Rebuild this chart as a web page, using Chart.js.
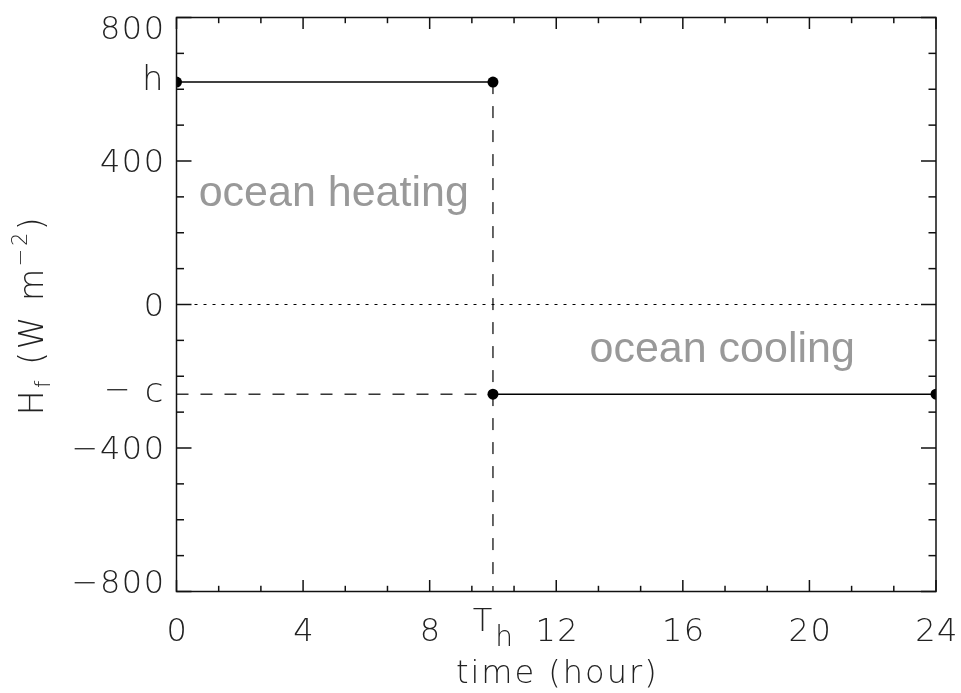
<!DOCTYPE html>
<html>
<head>
<meta charset="utf-8">
<script src="https://cdn.jsdelivr.net/npm/chart.js@4"></script>
<style>
  html, body { margin: 0; padding: 0; background: #fff; }
  #wrap { width: 961px; height: 693px; position: relative; }
</style>
</head>
<body>
<div id="wrap"><canvas id="fluxChart"></canvas></div>
<script>
// heat flux step: heating h until T_h, then cooling -c
const hFlux = 620;
const cFlux = 250;
const tHeat = 10;

const heatX = [0, tHeat];
const heatY = [hFlux, hFlux];
const coolX = [tHeat, 24];
const coolY = [-cFlux, -cFlux];
const dropX = [tHeat, tHeat];
const dropY = [hFlux, -800];
const cGuideX = [0, tHeat];
const cGuideY = [-cFlux, -cFlux];
const zeroX = [0, 24];
const zeroY = [0, 0];

const xTicks = [0, 4, 8, 12, 16, 20, 24];
const yTicks = [800, 400, 0, -400, -800];
const xMinorStep = 4 / 3;
const yMinorStep = 100;

const tickFont = '200 32px "DejaVu Sans"';
const tickColor = "#222";

function pts(xs, ys) {
  return xs.map((v, i) => ({ x: v, y: ys[i] }));
}

function fmt(v) {
  return v < 0 ? "\u2212" + Math.abs(v) : String(v);
}

const axisDeco = {
  id: "axisDeco",
  afterDraw(chart) {
    const { ctx, chartArea: a, scales } = chart;
    const x = scales.x;
    const y = scales.y;
    ctx.save();

    const line = (x1, y1, x2, y2) => {
      ctx.beginPath();
      ctx.moveTo(x1, y1);
      ctx.lineTo(x2, y2);
      ctx.stroke();
    };

    ctx.strokeStyle = "#111";
    ctx.lineWidth = 1.5;
    ctx.strokeRect(a.left, a.top, a.right - a.left, a.bottom - a.top);

    // inward ticks, x
    for (let i = 0; i * xMinorStep <= 24 + 1e-6; i++) {
      const px = x.getPixelForValue(i * xMinorStep);
      const len = i % 3 === 0 ? 11.5 : 5.7;
      line(px, a.bottom, px, a.bottom - len);
      line(px, a.top, px, a.top + len);
    }
    // inward ticks, y
    for (let v = -800; v <= 800; v += yMinorStep) {
      const py = y.getPixelForValue(v);
      const len = v % 400 === 0 ? 15 : 7.5;
      line(a.left, py, a.left + len, py);
      line(a.right, py, a.right - len, py);
    }

    ctx.fillStyle = tickColor;
    ctx.font = tickFont;
    ctx.letterSpacing = "1.5px";

    // y tick labels
    ctx.textAlign = "right";
    ctx.textBaseline = "alphabetic";
    const labX = a.left - 11;
    yTicks.forEach((v) => {
      let py = y.getPixelForValue(v) + 11;
      if (v === 800) py += 10;
      if (v === -800) py -= 10;
      ctx.fillText(fmt(v), labX, py);
    });
    ctx.letterSpacing = "0px";
    const symX = a.left - 13;
    ctx.font = '200 34px "DejaVu Sans"';
    ctx.fillText("h", symX, y.getPixelForValue(hFlux) + 8);
    ctx.fillText("c", symX, y.getPixelForValue(-cFlux) + 8);
    const cw = ctx.measureText("c").width;
    ctx.font = tickFont;
    ctx.fillText("\u2212", symX - cw - 14, y.getPixelForValue(-cFlux) + 6);

    // x tick labels
    ctx.letterSpacing = "1.5px";
    ctx.textAlign = "center";
    xTicks.forEach((v) => {
      ctx.fillText(String(v), x.getPixelForValue(v) + 1, a.bottom + 49);
    });
    // T_h label
    const thx = x.getPixelForValue(tHeat);
    ctx.letterSpacing = "0px";
    ctx.textAlign = "left";
    ctx.font = tickFont;
    const tw = ctx.measureText("T").width;
    ctx.font = '200 28px "DejaVu Sans"';
    const hw = ctx.measureText("h").width;
    const start = thx - (tw + 3 + hw) / 2;
    ctx.font = tickFont;
    ctx.fillText("T", start, a.bottom + 39);
    ctx.font = '200 28px "DejaVu Sans"';
    ctx.fillText("h", start + tw + 3, a.bottom + 54);

    // x title
    ctx.font = tickFont;
    ctx.letterSpacing = "2px";
    ctx.textAlign = "center";
    ctx.fillText("time (hour)", (a.left + a.right) / 2 + 1, a.bottom + 91);

    // y title with sub/superscripts
    const parts = [
      { t: "H", f: '200 33px "DejaVu Sans"', dy: 0 },
      { t: "f", f: '200 21px "DejaVu Sans"', dy: 7 },
      { t: " (W m", f: '200 33px "DejaVu Sans"', dy: 0 },
      { t: "\u22122", f: '200 21px "DejaVu Sans"', dy: -16 },
      { t: ")", f: '200 33px "DejaVu Sans"', dy: 0 },
    ];
    ctx.letterSpacing = "2.6px";
    let total = 0;
    parts.forEach((p) => {
      ctx.font = p.f;
      p.w = ctx.measureText(p.t).width;
      total += p.w;
    });
    ctx.translate(43, 315);
    ctx.rotate(-Math.PI / 2);
    ctx.textAlign = "left";
    let cx = -total / 2;
    parts.forEach((p) => {
      ctx.font = p.f;
      ctx.fillText(p.t, cx, p.dy);
      cx += p.w;
    });
    ctx.restore();

    // region notes
    ctx.save();
    ctx.fillStyle = "#999";
    ctx.font = '43px "Liberation Sans"';
    ctx.textAlign = "left";
    ctx.fillText("ocean heating", x.getPixelForValue(0.7), y.getPixelForValue(275));
    ctx.fillText("ocean cooling", x.getPixelForValue(13.05), y.getPixelForValue(-160));
    ctx.restore();
  },
};

const solid = {
  borderColor: "#000",
  borderWidth: 1.5,
  pointRadius: 5.5,
  pointBackgroundColor: "#000",
  pointBorderWidth: 0,
  clip: 0,
};

const guide = {
  borderColor: "#000",
  borderWidth: 1.2,
  pointRadius: 0,
  clip: 0,
};

new Chart(document.getElementById("fluxChart"), {
  type: "line",
  data: {
    datasets: [
      { ...guide, data: pts(dropX, dropY), borderDash: [12, 12] },
      { ...guide, data: pts(cGuideX, cGuideY), borderDash: [12, 12] },
      { ...guide, data: pts(zeroX, zeroY), borderDash: [3, 6], borderWidth: 1 },
      { ...solid, data: pts(heatX, heatY) },
      { ...solid, data: pts(coolX, coolY) },
    ],
  },
  options: {
    responsive: true,
    maintainAspectRatio: false,
    animation: false,
    layout: { padding: { left: 176.5, top: 17.5, right: 25, bottom: 101.5 } },
    plugins: { legend: { display: false }, tooltip: { enabled: false } },
    scales: {
      x: { type: "linear", min: 0, max: 24, display: false },
      y: { type: "linear", min: -800, max: 800, display: false },
    },
  },
  plugins: [axisDeco],
});
</script>
</body>
</html>
